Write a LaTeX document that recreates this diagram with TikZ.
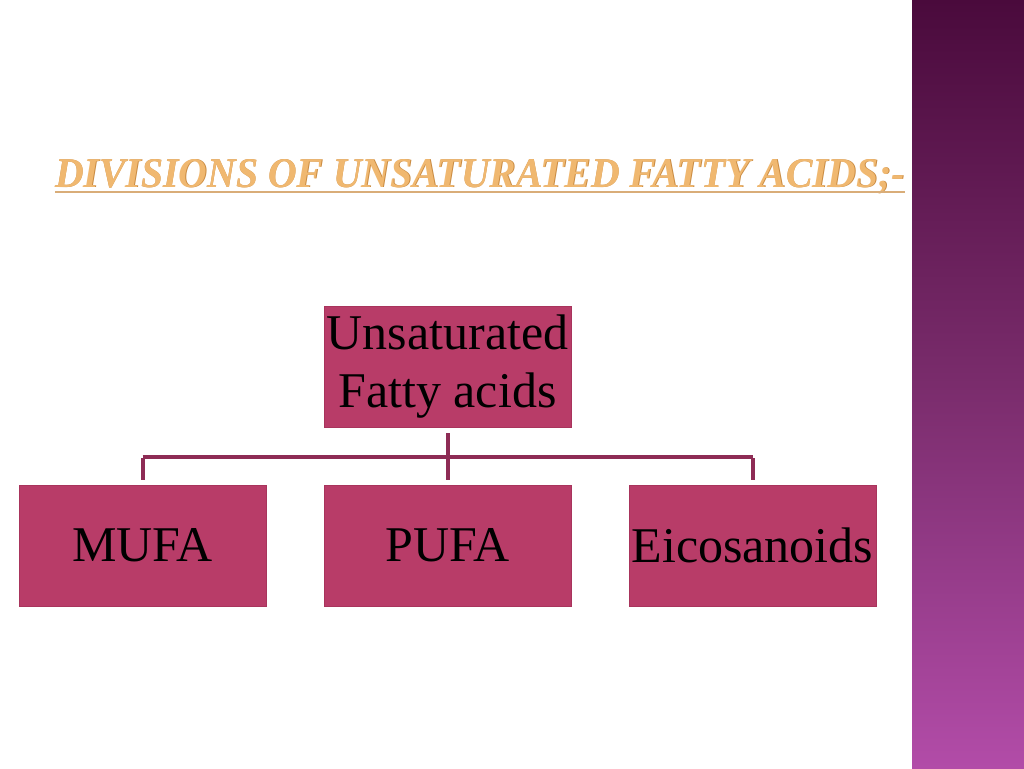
\documentclass[tikz,border=0pt]{standalone}
\usepackage{fontspec}
\setmainfont{Liberation Serif}
\usetikzlibrary{positioning}
\definecolor{boxfill}{HTML}{B83C68}
\definecolor{boxedge}{HTML}{A8345C}
\definecolor{linkcol}{HTML}{8E2C55}
\definecolor{bartop}{HTML}{4A0A3C}
\definecolor{barmid}{HTML}{7A2C6C}
\definecolor{barbot}{HTML}{B24CA8}
\definecolor{titlecol}{HTML}{F0B870}
\definecolor{titleedge}{HTML}{C98A40}
\tikzset{
  box/.style={rectangle, fill=boxfill, draw=boxedge, line width=0.6pt,
    minimum width=247pt, minimum height=121pt, inner sep=2pt,
    font=\fontsize{50}{58}\selectfont, text=black, align=center},
  link/.style={draw=linkcol, line width=4pt}
}
\begin{document}
\begin{tikzpicture}[x=1pt,y=-1pt]
\useasboundingbox (0,0) rectangle (1024,768);
\fill[white] (0,0) rectangle (1024,768);
% right bar gradient
\shade[top color=bartop, bottom color=barmid] (912,0) rectangle (1024,384);
\shade[top color=barmid, bottom color=barbot] (912,384) rectangle (1024,768);
% title
\node[anchor=base west, inner sep=0pt, text=titleedge] at (55.6,187.6)
  {\resizebox{850pt}{28pt}{\bfseries\itshape DIVISIONS OF UNSATURATED FATTY ACIDS;-}};
\node[anchor=base west, inner sep=0pt, text=titlecol] (title) at (55,187)
  {\resizebox{850pt}{28pt}{\bfseries\itshape DIVISIONS OF UNSATURATED FATTY ACIDS;-}};
\draw[titleedge!70, line width=1.2pt] (55,192) -- (905,192);
% boxes
\node[box] (top) at (447.5,366.5) {Unsaturated\\Fatty acids};
\node[box] (mufa) at (142.5,545.5) {MUFA};
\node[box] (pufa) at (447.5,545.5) {PUFA};
\node[box] (eico) at (752.5,545.5) {Eicosanoids};
% connectors
\coordinate (hub) at (447.5,457);
\coordinate (hl) at (142.5,457);
\coordinate (hr) at (752.5,457);
\draw[link] ([yshift=-6pt]top.south) -- (hub);
\draw[link] (hl) -- (hr);
\draw[link] ([yshift=-1pt]hl) -- ([yshift=5pt]mufa.north);
\draw[link] (hub) -- ([yshift=5pt]pufa.north);
\draw[link] ([yshift=-1pt]hr) -- ([yshift=5pt]eico.north);
\end{tikzpicture}
\end{document}
